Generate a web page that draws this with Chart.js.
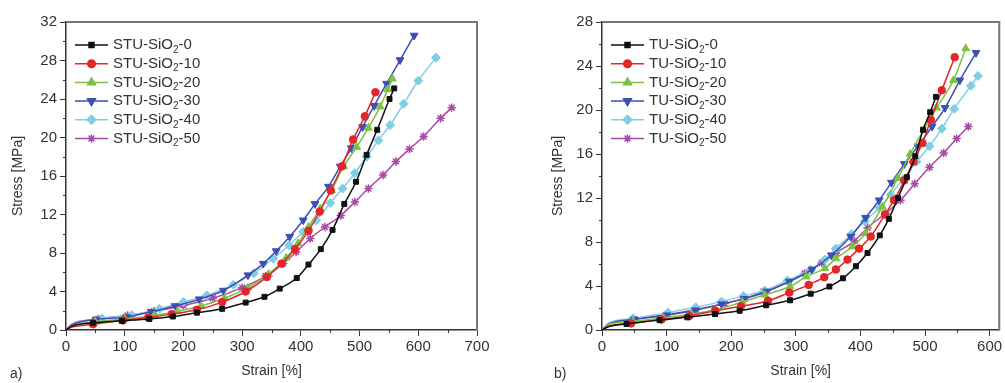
<!DOCTYPE html>
<html>
<head>
<meta charset="utf-8">
<script src="https://cdn.jsdelivr.net/npm/chart.js@4/dist/chart.umd.min.js"></script>
<style>
  body { margin: 0; background: #fff; width: 1005px; height: 383px; overflow: hidden; position: relative; font-family: 'Liberation Sans', Arial, sans-serif; }
  canvas { position: absolute; top: 0; }
  #chartA { left: 0; width: 500px; height: 383px; }
  #chartB { left: 540px; width: 465px; height: 383px; }
  .panel-tag { position: absolute; top: 365px; font-size: 14px; color: #333; }
</style>
</head>
<body>
<canvas id="chartA" width="500" height="383"></canvas>
<canvas id="chartB" width="465" height="383"></canvas>
<div class="panel-tag" style="left:10px">a)</div>
<div class="panel-tag" style="left:554px">b)</div>
<script>
// Panel a) STU series: [strain %, stress MPa]
const stu0  = [[0,0],[10,0.4],[46,0.75],[95,0.95],[142,1.15],[182,1.4],[223,1.8],[266,2.2],[306,2.85],[338,3.45],[364,4.3],[393,5.4],[413,6.8],[434,8.4],[454,10.4],[474,13.1],[494,15.4],[512,18.2],[530,20.8],[551,24.0],[559,25.1]];
const stu10 = [[0,0],[10,0.3],[46,0.6],[97,1.0],[140,1.3],[180,1.65],[223,2.1],[266,2.9],[306,4.0],[342,5.5],[367,6.9],[390,8.4],[413,10.3],[432,12.3],[451,14.5],[470,17.0],[489,19.8],[509,22.2],[527,24.7]];
const stu20 = [[0,0],[10,0.4],[50,0.85],[100,1.15],[150,1.5],[190,1.95],[230,2.5],[270,3.3],[310,4.4],[345,5.8],[375,7.5],[395,9.0],[413,10.7],[433,12.6],[452,14.5],[473,17.0],[495,19.0],[515,21.0],[535,23.2],[548,25.0],[556,26.1]];
const stu30 = [[0,0],[10,0.5],[51,1.1],[103,1.35],[145,1.9],[186,2.5],[227,3.2],[268,4.1],[310,5.7],[336,6.9],[358,8.2],[381,9.7],[404,11.4],[424,13.1],[447,14.9],[467,17.0],[486,18.9],[505,21.1],[525,23.3],[546,25.6],[569,28.05],[593,30.6]];
const stu40 = [[0,0],[10,0.5],[61,1.2],[112,1.55],[159,2.2],[200,2.9],[240,3.6],[285,4.7],[320,5.9],[353,7.4],[380,8.8],[404,10.2],[426,11.4],[450,13.2],[471,14.7],[492,16.3],[512,18.0],[532,19.7],[552,21.3],[575,23.5],[600,25.9],[630,28.3]];
const stu50 = [[0,0],[10,0.6],[55,1.15],[105,1.5],[150,1.95],[200,2.55],[250,3.3],[300,4.4],[340,5.6],[370,6.9],[392,8.1],[416,9.5],[441,10.7],[468,11.9],[492,13.3],[515,14.7],[540,16.1],[562,17.5],[585,18.8],[609,20.1],[638,22.0],[657,23.1]];

// Panel b) TU series
const tu0  = [[0,0],[10,0.3],[38,0.55],[89,0.9],[132,1.15],[175,1.45],[213,1.75],[254,2.25],[291,2.7],[323,3.3],[352,3.95],[373,4.7],[393,5.8],[411,7.0],[430,8.6],[444,10.1],[458,12.0],[472,13.9],[485,15.8],[497,18.2],[508,19.8],[517,21.2]];
const tu10 = [[0,0],[10,0.35],[45,0.6],[92,0.95],[135,1.27],[175,1.76],[215,2.15],[257,2.66],[290,3.4],[320,4.1],[344,4.8],[362,5.5],[380,6.4],[398,7.4],[416,8.5],[438,10.5],[452,11.8],[468,13.6],[482,15.3],[496,17.0],[509,19.1],[526,21.8],[546,24.8]];
const tu20 = [[0,0],[10,0.5],[48,0.8],[95,1.1],[138,1.45],[176,1.85],[217,2.55],[252,3.2],[291,3.95],[316,4.85],[345,5.6],[362,6.5],[388,7.6],[408,8.8],[434,11.2],[458,13.8],[477,16.0],[498,18.2],[518,20.2],[544,22.7],[563,25.6]];
const tu30 = [[0,0],[10,0.55],[50,0.95],[100,1.35],[145,1.8],[185,2.35],[220,2.85],[255,3.5],[290,4.4],[325,5.5],[355,6.8],[385,8.5],[408,10.2],[429,11.8],[448,13.4],[468,15.1],[489,16.7],[511,18.5],[531,20.2],[554,22.7],[579,25.2]];
const tu40 = [[0,0],[10,0.6],[48,1.06],[102,1.58],[145,2.06],[185,2.58],[219,3.09],[252,3.6],[287,4.5],[323,5.5],[345,6.4],[362,7.4],[386,8.7],[407,9.9],[429,11.1],[447,12.3],[466,13.7],[487,15.3],[507,16.7],[526,18.3],[545,20.1],[571,22.2],[582,23.1]];
const tu50 = [[0,0],[10,0.55],[50,1.0],[100,1.4],[145,1.85],[190,2.4],[220,2.85],[250,3.5],[288,4.4],[314,5.15],[340,6.1],[362,7.0],[391,8.1],[411,9.3],[439,10.6],[462,11.8],[484,13.3],[507,14.8],[529,16.1],[549,17.4],[567,18.5]];

const labelsA = ['STU-SiO₂-0', 'STU-SiO₂-10', 'STU-SiO₂-20', 'STU-SiO₂-30', 'STU-SiO₂-40', 'STU-SiO₂-50'];
const labelsB = ['TU-SiO₂-0', 'TU-SiO₂-10', 'TU-SiO₂-20', 'TU-SiO₂-30', 'TU-SiO₂-40', 'TU-SiO₂-50'];

// Axis ranges and ticks
const xTicksA = { min: 0, max: 700, step: 100, minor: 50 };
const yTicksA = { min: 0, max: 32, step: 4, minor: 2 };
const xTicksB = { min: 0, max: 615, step: 100, minor: 50 };
const yTicksB = { min: 0, max: 28, step: 4, minor: 2 };

const FONT = "'Liberation Sans', Arial, sans-serif";
const TEXT = '#333';

// marker look per series, same order in both panels
const looks = [
  { color: '#111111', style: 'rect',     rot: 0,   r: 3.5 },
  { color: '#e3262b', style: 'circle',   rot: 0,   r: 3.8 },
  { color: '#7cc242', style: 'triangle', rot: 0,   r: 4.5 },
  { color: '#3d4fb3', style: 'triangle', rot: 180, r: 4.5 },
  { color: '#7fcfe4', style: 'rectRot',  rot: 0,   r: 4.5 },
  { color: '#a94aa6', style: 'star',     rot: 0,   r: 4.2 }
];

function makeDatasets(seriesList, labels) {
  return seriesList.map((pts, i) => {
    const lk = looks[i];
    return {
      label: labels[i],
      data: pts.map(p => ({ x: p[0], y: p[1] })),
      borderColor: lk.color,
      backgroundColor: lk.color,
      pointBackgroundColor: lk.color,
      pointBorderColor: lk.color,
      pointStyle: lk.style,
      pointRotation: lk.rot,
      pointRadius: ctx => (ctx.dataIndex < 2 ? 0 : lk.r),
      pointBorderWidth: lk.style === 'star' ? 1.5 : 1,
      borderWidth: 1.5,
      cubicInterpolationMode: 'monotone'
    };
  });
}

// frame on top/right, minor ticks and the legend inside the plot
const framePlugin = {
  id: 'frameTicks',
  afterDraw(chart, args, opts) {
    const { ctx, chartArea: a, scales } = chart;
    ctx.save();
    ctx.strokeStyle = '#777';
    ctx.lineWidth = 2;
    ctx.beginPath();
    ctx.moveTo(a.left, a.top);
    ctx.lineTo(a.right, a.top);
    ctx.lineTo(a.right, a.bottom);
    ctx.stroke();

    ctx.strokeStyle = TEXT;
    ctx.lineWidth = 1;
    for (let v = opts.xMinor; v <= scales.x.max; v += opts.xMinor * 2) {
      const px = Math.round(scales.x.getPixelForValue(v)) + 0.5;
      ctx.beginPath();
      ctx.moveTo(px, a.bottom);
      ctx.lineTo(px, a.bottom + 3);
      ctx.stroke();
    }
    for (let v = opts.yMinor; v <= scales.y.max; v += opts.yMinor * 2) {
      const py = Math.round(scales.y.getPixelForValue(v)) + 0.5;
      ctx.beginPath();
      ctx.moveTo(a.left, py);
      ctx.lineTo(a.left - 3, py);
      ctx.stroke();
    }

    // legend
    chart.data.datasets.forEach((ds, i) => {
      const y = a.top + 23 + i * 18.7;
      const x0 = a.left + 9, x1 = a.left + 42;
      ctx.strokeStyle = ds.borderColor;
      ctx.fillStyle = ds.borderColor;
      ctx.lineWidth = 1.5;
      ctx.beginPath();
      ctx.moveTo(x0, y);
      ctx.lineTo(x1, y);
      ctx.stroke();
      Chart.helpers.drawPoint(ctx, {
        pointStyle: ds.pointStyle,
        rotation: ds.pointRotation,
        radius: looks[i].r,
        borderWidth: ds.pointBorderWidth
      }, (x0 + x1) / 2, y);

      const parts = ds.label.split('₂');
      let tx = a.left + 47;
      ctx.fillStyle = TEXT;
      ctx.textBaseline = 'middle';
      ctx.textAlign = 'left';
      ctx.font = '15px ' + FONT;
      ctx.fillText(parts[0], tx, y);
      tx += ctx.measureText(parts[0]).width;
      ctx.font = '10px ' + FONT;
      ctx.fillText('2', tx, y + 5);
      tx += ctx.measureText('2').width;
      ctx.font = '15px ' + FONT;
      ctx.fillText(parts[1], tx, y);
    });
    ctx.restore();
  }
};

function makeChart(canvasId, datasets, xT, yT, yAxisWidth, padRight) {
  return new Chart(document.getElementById(canvasId), {
    type: 'line',
    data: { datasets },
    plugins: [framePlugin],
    options: {
      responsive: false,
      animation: false,
      devicePixelRatio: 1,
      layout: { padding: { top: 22, right: padRight, bottom: 0, left: 0 } },
      plugins: {
        legend: { display: false },
        tooltip: { enabled: false },
        frameTicks: { xMinor: xT.minor, yMinor: yT.minor }
      },
      scales: {
        x: {
          type: 'linear',
          min: xT.min, max: xT.max,
          ticks: { stepSize: xT.step, includeBounds: false, autoSkip: false, maxRotation: 0, color: TEXT, font: { size: 15, family: FONT }, padding: 2 },
          grid: { drawOnChartArea: false, drawTicks: true, tickLength: 6, color: TEXT, tickWidth: 1 },
          border: { display: true, color: TEXT, width: 1.5 },
          title: { display: true, text: 'Strain [%]', color: TEXT, font: { size: 14, family: FONT }, padding: { top: 0, bottom: 3 } },
          afterFit(scale) { scale.height = 53; }
        },
        y: {
          type: 'linear',
          min: yT.min, max: yT.max,
          ticks: { stepSize: yT.step, color: TEXT, font: { size: 15, family: FONT }, padding: 3 },
          grid: { drawOnChartArea: false, drawTicks: true, tickLength: 6, color: TEXT, tickWidth: 1 },
          border: { display: true, color: TEXT, width: 1.5 },
          title: { display: true, text: 'Stress [MPa]', color: TEXT, font: { size: 14, family: FONT }, padding: { top: 10, bottom: 0 } },
          afterFit(scale) { scale.width = yAxisWidth; }
        }
      }
    }
  });
}

makeChart('chartA', makeDatasets([stu0, stu10, stu20, stu30, stu40, stu50], labelsA), xTicksA, yTicksA, 66, 23);
makeChart('chartB', makeDatasets([tu0, tu10, tu20, tu30, tu40, tu50], labelsB), xTicksB, yTicksB, 62, 2);
</script>
</body>
</html>
